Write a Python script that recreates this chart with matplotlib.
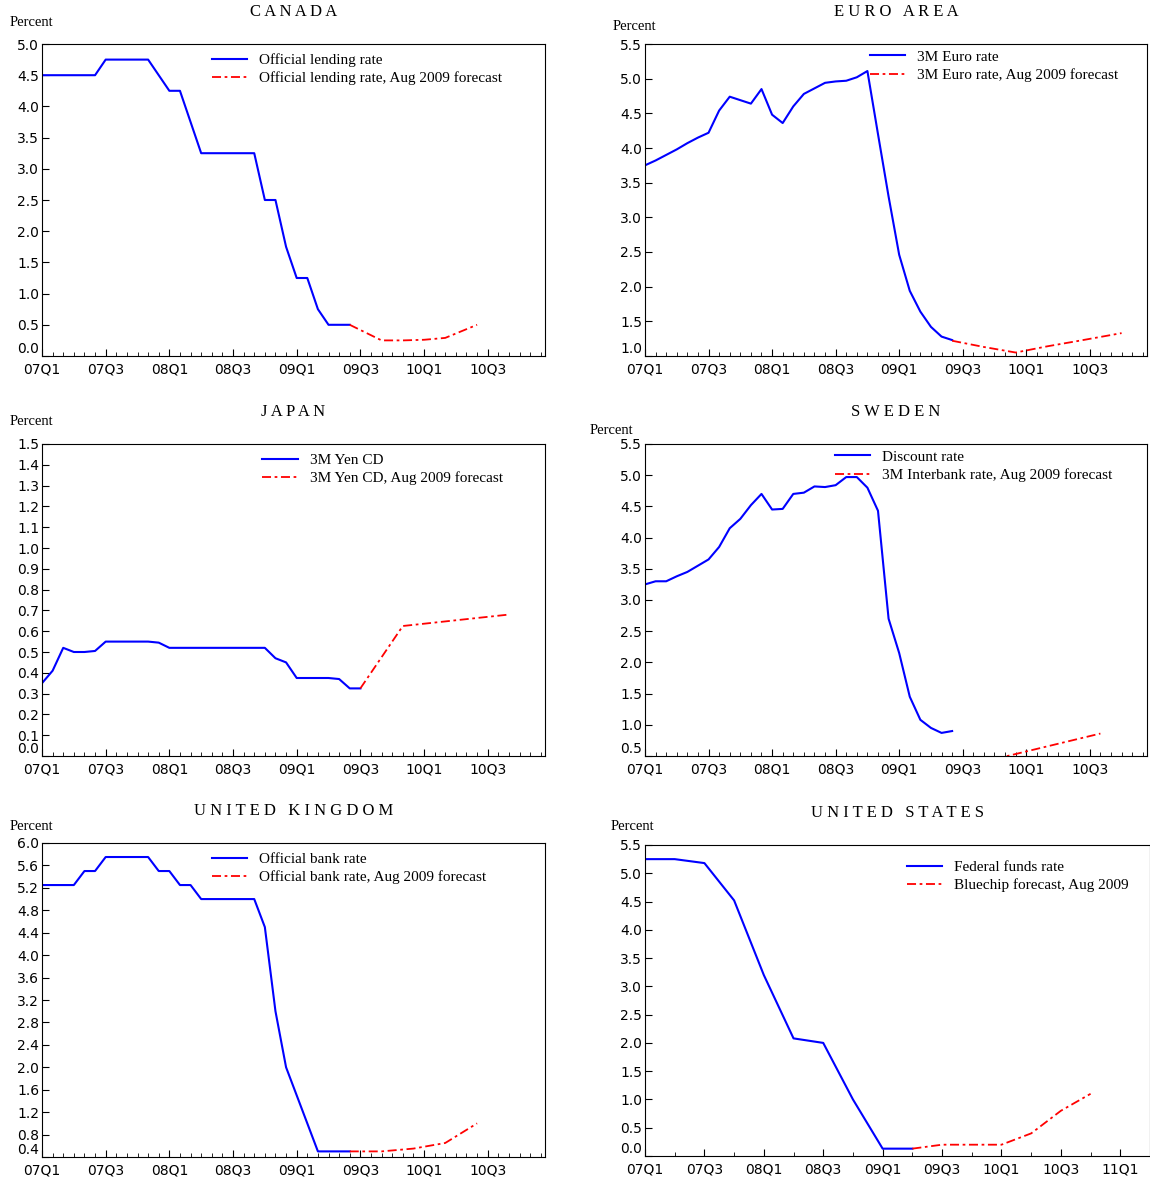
import matplotlib
matplotlib.use("Agg")
import matplotlib.pyplot as plt
import numpy as np

# monthly index: 0 = Jan 2007
can_x = [0, 5, 6, 10, 12, 13, 15, 20, 21, 22, 23, 24, 25, 26, 27, 29]
can_y = [4.5, 4.5, 4.75, 4.75, 4.25, 4.25, 3.25, 3.25, 2.5, 2.5, 1.75, 1.25, 1.25, 0.75, 0.5, 0.5]
can_fx = [29, 32, 34, 36, 38, 41]
can_fy = [0.5, 0.25, 0.25, 0.26, 0.29, 0.5]

euro_y = [3.75, 3.82, 3.9, 3.98, 4.07, 4.15, 4.22, 4.54, 4.74, 4.69, 4.64, 4.85, 4.48, 4.36,
          4.6, 4.78, 4.86, 4.94, 4.96, 4.97, 5.02, 5.11, 4.2, 3.3, 2.46, 1.94, 1.64, 1.42, 1.28, 1.23]
euro_fx = [29, 32, 35, 38, 41, 45]
euro_fy = [1.22, 1.13, 1.05, 1.14, 1.22, 1.33]

jap_x = [0, 1, 2, 3, 4, 5, 6, 10, 11, 12, 21, 22, 23, 24, 27, 28, 29, 30]
jap_y = [0.35, 0.41, 0.52, 0.5, 0.5, 0.505, 0.55, 0.55, 0.545, 0.52, 0.52, 0.47, 0.45, 0.375,
         0.375, 0.37, 0.325, 0.325]
jap_fx = [30, 34, 44]
jap_fy = [0.325, 0.625, 0.68]

swe_y = [3.25, 3.3, 3.3, 3.38, 3.45, 3.55, 3.65, 3.85, 4.15, 4.3, 4.52, 4.7, 4.45, 4.46, 4.7,
         4.72, 4.82, 4.81, 4.84, 4.97, 4.97, 4.8, 4.43, 2.7, 2.15, 1.45, 1.08, 0.95, 0.87, 0.9]
swe_fx = [33, 43]
swe_fy = [0.45, 0.86]

uk_x = [0, 3, 4, 5, 6, 10, 11, 12, 13, 14, 15, 20, 21, 22, 23, 24, 25, 26, 29]
uk_y = [5.25, 5.25, 5.5, 5.5, 5.75, 5.75, 5.5, 5.5, 5.25, 5.25, 5.0, 5.0, 4.5, 3.0, 2.0, 1.5, 1.0, 0.5, 0.5]
uk_fx = [29, 32, 35, 38, 41]
uk_fy = [0.5, 0.5, 0.55, 0.65, 1.0]

# quarterly index: 0 = 07Q1
us_x = [0, 1, 2, 3, 4, 5, 6, 7, 8, 9]
us_y = [5.25, 5.25, 5.18, 4.52, 3.2, 2.08, 2.0, 1.0, 0.13, 0.13]
us_fx = [9, 10, 11, 12, 13, 14, 15]
us_fy = [0.13, 0.2, 0.2, 0.2, 0.4, 0.8, 1.1]

month_labels = ["07Q1", "07Q3", "08Q1", "08Q3", "09Q1", "09Q3", "10Q1", "10Q3"]
quarter_labels = ["07Q1", "07Q3", "08Q1", "08Q3", "09Q1", "09Q3", "10Q1", "10Q3", "11Q1"]

W, H = 1150, 1177
fig = plt.figure(figsize=(W / 100, H / 100), dpi=100)
plt.rcParams['font.family'] = ['Liberation Serif', 'DejaVu Serif']

FCAST = dict(color="red", lw=1.3, dashes=(5, 2, 1.5, 2))
HIST = dict(color="blue", lw=1.5)


def panel(box, title, ylim, ystep, hist, fc, labels, lab1, lab2, quarterly=False,
          leg_loc=(0.33, 1.0), ptxt=(10, 22)):
    l, r, t, b = box
    ax = fig.add_axes([l / W, 1 - b / H, (r - l) / W, (b - t) / H])
    ax.plot(hist[0], hist[1], label=lab1, **HIST)
    ax.plot(fc[0], fc[1], label=lab2, **FCAST)
    if quarterly:
        ax.set_xlim(0, 17)
        ax.set_xticks(np.arange(0, 17, 2))
        ax.set_xticks(np.arange(0, 18, 1), minor=True)
    else:
        ax.set_xlim(0, 47.4)
        ax.set_xticks(np.arange(0, 43, 6))
        ax.set_xticks(np.arange(0, 48, 1), minor=True)
    ax.set_xticklabels(labels, fontsize=10, family="DejaVu Sans")
    ax.set_ylim(*ylim)
    yt = np.arange(ylim[0], ylim[1] + 1e-9, ystep)
    ax.set_yticks(yt)
    ax.set_yticklabels(["%.1f" % v for v in yt], fontsize=10, family="DejaVu Sans")
    ax.tick_params(direction="in", length=5, pad=2)
    ax.tick_params(which="minor", direction="in", length=3)
    ax.tick_params(axis="x", pad=5)
    ax.get_yticklabels()[0].set_verticalalignment("bottom")
    ax.legend(loc="upper left", bbox_to_anchor=leg_loc, frameon=False, fontsize=11,
              handlelength=2.3, labelspacing=0.3, borderaxespad=0.2)
    fig.text((l + r) / 2 / W, 1 - 12 / H if t < 100 else 1 - (t - 32) / H, " ".join(title),
             ha="center", va="center", fontsize=12)
    fig.text(ptxt[0] / W, 1 - ptxt[1] / H, "Percent", fontsize=10.5, va="center")
    return ax


panel((42, 545, 44, 356), "CANADA", (0, 5.0), 0.5, (can_x, can_y), (can_fx, can_fy),
      month_labels, "Official lending rate", "Official lending rate, Aug 2009 forecast",
      leg_loc=(0.32, 1.0), ptxt=(10, 22))
panel((645, 1147, 44, 356), "EURO AREA", (1.0, 5.5), 0.5, (range(len(euro_y)), euro_y),
      (euro_fx, euro_fy), month_labels, "3M Euro rate", "3M Euro rate, Aug 2009 forecast",
      leg_loc=(0.43, 1.01), ptxt=(613, 26))
panel((42, 545, 444, 756), "JAPAN", (0, 1.5), 0.1, (jap_x, jap_y), (jap_fx, jap_fy),
      month_labels, "3M Yen CD", "3M Yen CD, Aug 2009 forecast",
      leg_loc=(0.42, 1.0), ptxt=(10, 422))
panel((645, 1147, 444, 756), "SWEDEN", (0.5, 5.5), 0.5, (range(len(swe_y)), swe_y),
      (swe_fx, swe_fy), month_labels, "Discount rate", "3M Interbank rate, Aug 2009 forecast",
      leg_loc=(0.36, 1.01), ptxt=(590, 430))
panel((42, 545, 843, 1157), "UNITED KINGDOM", (0.4, 6.0), 0.4, (uk_x, uk_y), (uk_fx, uk_fy),
      month_labels, "Official bank rate", "Official bank rate, Aug 2009 forecast",
      leg_loc=(0.32, 1.0), ptxt=(10, 826))
panel((645, 1150, 845, 1156), "UNITED STATES", (0, 5.5), 0.5, (us_x, us_y), (us_fx, us_fy),
      quarter_labels, "Federal funds rate", "Bluechip forecast, Aug 2009", quarterly=True,
      leg_loc=(0.5, 0.98), ptxt=(611, 826))

fig.savefig("out.png", dpi=100)
